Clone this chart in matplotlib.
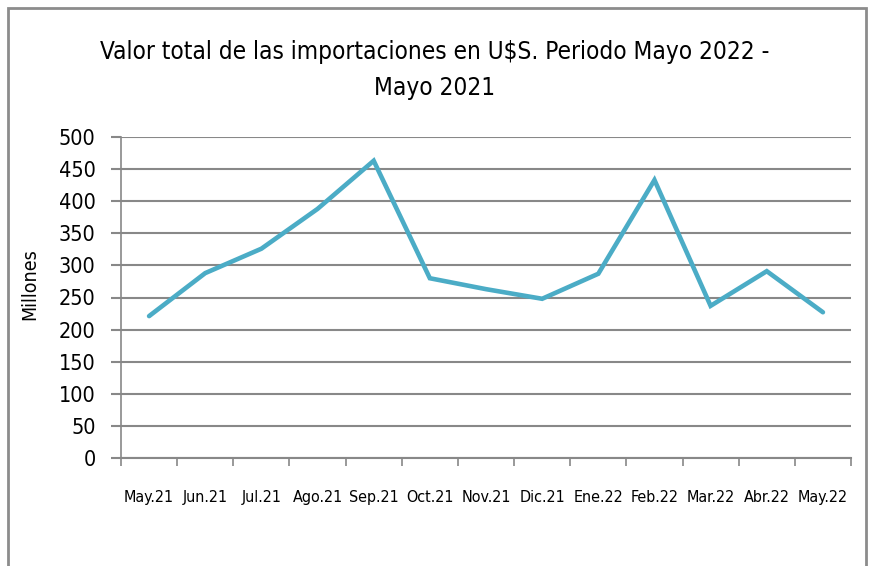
import matplotlib
matplotlib.use("Agg")
import matplotlib.pyplot as plt
from matplotlib.patches import Rectangle

plt.rcParams['font.family'] = ["DejaVu Sans"]
plt.rcParams['font.stretch'] = "condensed"

categories = ["May.21", "Jun.21", "Jul.21", "Ago.21", "Sep.21", "Oct.21", "Nov.21",
              "Dic.21", "Ene.22", "Feb.22", "Mar.22", "Abr.22", "May.22"]
values = [221, 288, 326, 388, 463, 280, 263, 248, 287, 433, 237, 291, 227]
yticks = [0, 50, 100, 150, 200, 250, 300, 350, 400, 450, 500]

W, H = 870, 566
fig = plt.figure(figsize=(W / 100, H / 100), dpi=100)
ax = fig.add_axes([121 / W, 1 - 458 / H, 730 / W, 321 / H])

x = list(range(len(categories)))
ax.plot(x, values, color="#4BACC6", lw=3.3, solid_capstyle="round", solid_joinstyle="miter", zorder=3)

ax.set_xlim(-0.5, len(categories) - 0.5)
ax.set_ylim(0, 500)
ax.set_yticks(yticks)
ax.set_yticklabels([str(v) for v in yticks], fontsize=15.5)
ax.set_xticks(x)
ax.set_xticklabels(categories, fontsize=11.5)
ax.set_xticks([i - 0.5 for i in range(len(categories) + 1)], minor=True)
ax.tick_params(axis="x", which="major", length=0, pad=23)
ax.tick_params(axis="x", which="minor", length=6, color="#888888", width=1.2)
ax.tick_params(axis="y", length=7.2, color="#888888", width=1.5, pad=11)

ax.grid(axis="y", color="#888888", lw=1.5)
ax.set_axisbelow(True)
for s in ["top", "right"]:
    ax.spines[s].set_visible(False)
ax.spines["left"].set_color("#888888")
ax.spines["left"].set_linewidth(1.2)
ax.spines["bottom"].set_color("#888888")
ax.spines["bottom"].set_linewidth(1.5)

fig.text(30 / W, 1 - 284 / H, "Millones", rotation=90, ha="center", va="center", fontsize=14)

fig.text(0.5, 1 - 70 / H, "Valor total de las importaciones en U$S. Periodo Mayo 2022 -\nMayo 2021",
         ha="center", va="center", fontsize=17.5, linespacing=1.65)

fig.patches.append(Rectangle((8 / W, -0.05), (866 - 8) / W, 1.05 - 8 / H,
                             transform=fig.transFigure, fill=False, edgecolor="#8c8c8c", lw=2))

fig.savefig("out.png", dpi=100)
